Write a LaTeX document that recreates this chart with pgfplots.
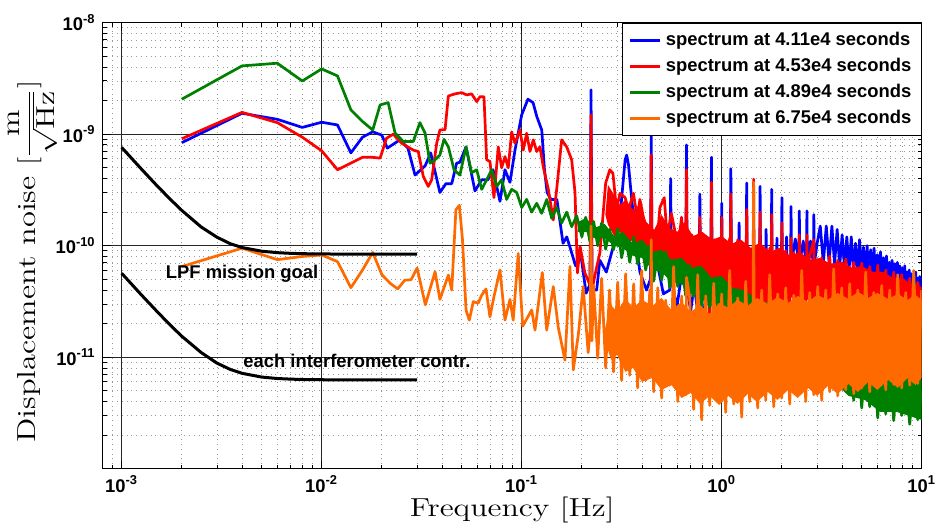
\documentclass[border=0pt]{standalone}
\usepackage{fontspec}
\usepackage{pgfplots}
\pgfplotsset{compat=1.18}
\newfontfamily\hv{Liberation Sans}
\newcommand\lblfont{\hv\bfseries\fontsize{9.2}{11}\selectfont}
\newcommand\axfont{\fontsize{13}{15}\selectfont}
\newcommand\ylab{Displacement noise $[\displaystyle\frac{\mathrm{m}}{\sqrt{\mathrm{Hz}}}]$}
\definecolor{mblue}{RGB}{0,0,255}
\definecolor{mred}{RGB}{255,0,0}
\definecolor{mgreen}{RGB}{0,128,0}
\definecolor{morange}{RGB}{255,106,0}
\pgfplotsset{sp/.style={line width=1.35pt, line join=round, mark=none}}
\pgfplotsset{legend image code/.code={\draw[#1, line width=1.5pt] (0pt,0pt) -- (15pt,0pt);}}
\begin{document}
\begin{tikzpicture}
\path[use as bounding box] (-51.35pt,-29.65pt) rectangle (416.15pt,234.35pt);
\begin{axis}[
  at={(0pt,0pt)}, anchor=south west,
  scale only axis, width=409.5pt, height=223pt,
  xmode=log, ymode=log,
  xmin=8.04e-4, xmax=10, ymin=1e-12, ymax=1e-8,
  xtick={1e-3,1e-2,1e-1,1,10},
  xticklabels={10\textsuperscript{-3},10\textsuperscript{-2},10\textsuperscript{-1},10\textsuperscript{0},10\textsuperscript{1}},
  ytick={1e-11,1e-10,1e-9,1e-8},
  yticklabels={10\textsuperscript{-11},10\textsuperscript{-10},10\textsuperscript{-9},10\textsuperscript{-8}},
  minor xtick={9e-4,2e-3,3e-3,4e-3,5e-3,6e-3,7e-3,8e-3,9e-3,2e-2,3e-2,4e-2,5e-2,6e-2,7e-2,8e-2,9e-2,0.2,0.3,0.4,0.5,0.6,0.7,0.8,0.9,2,3,4,5,6,7,8,9},
  minor ytick={2e-12,3e-12,4e-12,5e-12,6e-12,7e-12,8e-12,9e-12,2e-11,3e-11,4e-11,5e-11,6e-11,7e-11,8e-11,9e-11,2e-10,3e-10,4e-10,5e-10,6e-10,7e-10,8e-10,9e-10,2e-9,3e-9,4e-9,5e-9,6e-9,7e-9,8e-9,9e-9},
  grid=both,
  major grid style={black!85, line width=0.45pt},
  minor grid style={gray!80, dotted, line width=0.45pt},
  tick align=inside,
  major tick length=4pt, minor tick length=2pt,
  tick style={black, line width=0.5pt},
  axis line style={line width=0.7pt},
  tick label style={font=\lblfont},
  xlabel={Frequency [Hz]},
  xlabel style={at={(axis description cs:0.5,-0.1066)}, anchor=base, font=\axfont, xscale=1.23},
  ylabel={\ylab},
  ylabel style={at={(axis description cs:-0.0822,0.4646)}, anchor=base, font=\axfont, xscale=1.25},
  legend style={at={(axis description cs:1,1)}, anchor=north east, font=\lblfont, draw=black, fill=white, nodes={inner ysep=2.45pt}},
  legend cell align=left,
]
% ---------- blue ----------
\addplot[sp, mblue] coordinates {
(0.002,8.4e-10) (0.004,1.54e-9) (0.006,1.36e-9) (0.008,1.15e-9) (0.010,1.28e-9) (0.012,1.21e-9) (0.014,6.8e-10) (0.016,9.4e-10) (0.018,1.05e-9) (0.020,9.8e-10)
(0.0213,7.5e-10) (0.0246,8.9e-10) (0.0270,7.5e-10) (0.0293,4.3e-10) (0.0329,5.2e-10) (0.0351,6.8e-10) (0.0390,3.0e-10) (0.0418,3.6e-10) (0.0447,3.6e-10) (0.0473,5.5e-10)
(0.0491,5.6e-10) (0.0527,7.7e-10) (0.0584,3.1e-10) (0.0631,3.9e-10) (0.0678,3.9e-10) (0.0719,4.8e-10) (0.0779,2.5e-10) (0.0825,4.8e-10) (0.0874,3.7e-10) (0.0926,7.2e-10)
(0.100,1.49e-9) (0.1075,2.06e-9) (0.114,1.92e-9) (0.119,1.44e-9) (0.126,1.09e-9) (0.130,4.8e-10) (0.134,3.0e-10) (0.140,2.6e-10) (0.150,2.6e-10) (0.161,1.05e-10)
(0.168,1.2e-10) (0.175,9.5e-11) (0.186,6.6e-11) (0.197,8.6e-11) (0.210,3.75e-11) (0.2195,4.5e-11) (0.2222,2.5e-9) (0.225,4e-11) (0.237,4.0e-11) (0.246,7.4e-11)
(0.265,5.8e-11) (0.287,9.8e-11) (0.310,1.8e-10) (0.329,5.9e-10) (0.335,6.5e-10) (0.342,5.3e-10) (0.350,3.4e-10) (0.369,1.3e-10) (0.390,5.8e-11) (0.421,4.0e-11)
(0.440,5e-11) (0.4444,1.09e-9) (0.449,5e-11) (0.473,7.4e-11) (0.511,3.7e-11) (0.550,4e-11) (0.5556,4.0e-10) (0.561,5e-11) (0.597,2.8e-11) (0.630,5.5e-11)
(0.660,4e-11) (0.6667,8.0e-10) (0.673,4e-11) (0.700,2.6e-11) (0.730,4.5e-11) (0.760,2.4e-11) (0.770,3.5e-11) (0.7778,2.9e-10) (0.786,3.5e-11) (0.820,2.2e-11)
(0.850,4.0e-11) (0.880,3.2e-11) (0.8889,6.2e-10) (0.898,3.2e-11) (0.930,2.0e-11) (0.960,4.0e-11) (0.992,4e-11) (1.0,2.4e-10) (1.008,7.8e-11)
(1.104,7.8e-11) (1.111,4.9e-10) (1.118,7.8e-11) (1.215,7.8e-11) (1.222,1.6e-10) (1.229,7.8e-11) (1.326,7.8e-11) (1.333,3.65e-10) (1.341,7.8e-11)
(1.437,7.8e-11) (1.444,1.5e-10) (1.452,7.8e-11) (1.548,7.5e-11) (1.556,3.4e-10) (1.564,7.5e-11) (1.659,7.5e-11) (1.667,1.4e-10) (1.675,7.5e-11)
(1.769,7.5e-11) (1.778,3.2e-10) (1.787,7.5e-11) (1.880,7.5e-11) (1.889,1.17e-10) (1.898,7.5e-11) (1.990,7.2e-11) (2.0,2.7e-10) (2.010,7.2e-11)
(2.100,7e-11) (2.111,1.2e-10) (2.122,7e-11) (2.211,7e-11) (2.222,2.25e-10) (2.233,7e-11) (2.333,1.15e-10) (2.432,7e-11) (2.444,2.05e-10) (2.456,7e-11)
(2.556,1.1e-10) (2.654,6.8e-11) (2.667,2.05e-10) (2.680,6.8e-11) (2.778,1.1e-10) (2.875,6.8e-11) (2.889,1.9e-10) (2.903,6.8e-11) (3.0,1.05e-10)
(3.111,1.5e-10) (3.222,7.0e-11) (3.333,1.5e-10) (3.444,7.0e-11) (3.556,1.5e-10) (3.667,6.8e-11) (3.778,1.4e-10) (3.889,6.5e-11) (4.0,1.25e-10) (4.111,6.3e-11)
(4.222,1.2e-10) (4.333,6.1e-11) (4.444,1.2e-10) (4.556,5.9e-11) (4.667,1.05e-10) (4.778,5.7e-11) (4.889,1.13e-10) (5.0,5.5e-11) (5.111,9.7e-11) (5.222,5.3e-11)
(5.333,1.0e-10) (5.444,5.1e-11) (5.556,9.2e-11) (5.667,5.0e-11) (5.778,9.5e-11) (5.889,4.8e-11) (6.0,8.3e-11) (6.111,4.7e-11) (6.222,8.8e-11) (6.333,4.5e-11)
(6.444,7.8e-11) (6.556,4.4e-11) (6.667,8.1e-11) (6.778,4.3e-11) (6.889,7.1e-11) (7.0,4.2e-11) (7.111,7.4e-11) (7.222,4.1e-11) (7.333,6.9e-11) (7.444,4.0e-11)
(7.556,7.1e-11) (7.667,3.9e-11) (7.778,6.6e-11) (7.889,3.8e-11) (8.0,6.3e-11) (8.111,3.7e-11) (8.222,6.6e-11) (8.333,3.6e-11) (8.444,5.8e-11) (8.556,3.5e-11)
(8.667,6.05e-11) (8.778,3.5e-11) (8.889,5.6e-11) (9.0,3.4e-11) (9.111,5.3e-11) (9.222,3.3e-11) (9.333,5.8e-11) (9.444,3.2e-11) (9.556,5.1e-11) (9.667,3.2e-11)
(9.778,5.3e-11) (9.889,3.1e-11) (10.0,5.2e-11)
};
\addlegendentry{spectrum at 4.11e4 seconds}
% ---------- red ----------
\addplot[forget plot, draw=none, fill=mred] coordinates {
(0.262,1.89e-10) (0.27,3.51e-10) (0.29,2.85e-10) (0.31,2.32e-10) (0.33,2.58e-10) (0.36,2.10e-10) (0.39,2.32e-10) (0.42,1.63e-10) (0.46,1.39e-10) (0.50,1.89e-10)
(0.55,1.44e-10) (0.60,1.33e-10) (0.65,1.63e-10) (0.72,1.22e-10) (0.80,1.33e-10) (0.90,1.13e-10) (1.0,1.22e-10) (1.12,1.04e-10) (1.25,1.13e-10) (1.4,9.56e-11)
(1.55,1.06e-10) (1.75,8.80e-11) (1.95,9.56e-11) (2.2,8.10e-11) (2.45,8.80e-11) (2.75,7.46e-11) (3.1,7.77e-11) (3.5,6.87e-11) (4.0,7.15e-11) (4.5,6.32e-11)
(5.0,6.59e-11) (5.7,5.82e-11) (6.4,5.82e-11) (7.2,5.14e-11) (8.0,5.14e-11) (9.0,4.45e-11) (10,4.27e-11)
(10,2.94e-11) (9.0,3.27e-11) (8.0,2.88e-11) (7.2,3.27e-11) (6.4,2.88e-11) (5.7,3.40e-11) (5.0,2.94e-11) (4.5,3.40e-11) (4.0,2.94e-11) (3.5,3.40e-11)
(3.1,2.88e-11) (2.75,3.40e-11) (2.45,2.88e-11) (2.2,3.55e-11) (1.95,2.94e-11) (1.75,3.55e-11) (1.55,3.01e-11) (1.4,3.69e-11) (1.25,3.07e-11) (1.12,3.85e-11)
(1.0,3.27e-11) (0.90,4.18e-11) (0.80,3.62e-11) (0.72,4.73e-11) (0.65,4.45e-11) (0.60,6.07e-11) (0.55,5.82e-11) (0.50,7.77e-11) (0.46,7.15e-11) (0.42,9.56e-11)
(0.39,9.17e-11) (0.36,1.13e-10) (0.33,1.02e-10) (0.31,1.33e-10) (0.29,1.22e-10) (0.27,1.54e-10) (0.262,1.89e-10)};
\addplot[sp, mred] coordinates {
(0.002,9.1e-10) (0.004,1.57e-9) (0.006,1.27e-9) (0.008,9.4e-10) (0.010,7.1e-10) (0.012,4.8e-10) (0.014,5.5e-10) (0.016,6.2e-10) (0.018,6.2e-10) (0.0196,6.1e-10)
(0.0211,9.2e-10) (0.0228,1.0e-9) (0.0251,8.3e-10) (0.0287,7.2e-10) (0.0304,7.0e-10) (0.0322,4.2e-10) (0.0341,3.4e-10) (0.0355,3.9e-10) (0.0376,8.3e-10) (0.0390,1.09e-9)
(0.0414,1.1e-9) (0.0430,2.2e-9) (0.0464,2.3e-9) (0.0501,2.36e-9) (0.0531,2.25e-9) (0.0562,2.3e-9) (0.0596,1.96e-9) (0.0619,2.17e-9) (0.0648,2.17e-9) (0.0668,5.9e-10)
(0.0694,5.7e-10) (0.0727,2.7e-10) (0.0764,7.7e-10) (0.0794,5.0e-10) (0.0825,6.3e-10) (0.0857,5.0e-10) (0.0891,1.05e-9) (0.0926,8.3e-10) (0.098,1.09e-9) (0.1018,7.2e-10)
(0.1059,1.02e-9) (0.110,7.0e-10) (0.1143,8.9e-10) (0.1189,7.0e-10) (0.1234,7.7e-10) (0.1282,5.1e-10) (0.1359,3.2e-10) (0.1439,1.7e-10) (0.1496,3.2e-10) (0.1585,8.9e-10)
(0.1679,7.7e-10) (0.1778,5.9e-10) (0.1848,3.0e-10) (0.190,5.7e-11) (0.196,9.8e-11) (0.207,5.7e-11) (0.220,4.4e-11) (0.2222,1.49e-9) (0.2245,4.0e-11) (0.237,6.4e-11)
(0.246,8.6e-11) (0.263,3.65e-10) (0.276,4.8e-10) (0.286,4.45e-10) (0.298,2.1e-10) (0.310,2.95e-10) (0.329,2.7e-10) (0.342,2.1e-10) (0.362,2.95e-10) (0.378,1.8e-10)
(0.390,2.6e-10) (0.406,1.8e-10) (0.422,1.3e-10) (0.440,7.4e-11) (0.4444,6.5e-10) (0.449,7e-11) (0.473,9.8e-11) (0.491,2.2e-10) (0.516,2.7e-10) (0.534,1.2e-10)
(0.560,1.95e-10) (0.606,9.8e-11) (0.630,1.8e-10) (0.660,6e-11) (0.6667,4.8e-10) (0.673,4.9e-11) (0.690,3.25e-11) (0.710,1.25e-10) (0.730,4e-11) (0.750,1.13e-10)
(0.772,3.25e-11) (0.7778,1.8e-10) (0.785,4e-11) (0.810,1.17e-10) (0.830,2.65e-11) (0.850,1.08e-10) (0.870,2.15e-11) (0.882,4.9e-11) (0.8889,3.7e-10) (0.896,4.4e-11)
(0.920,1.13e-10) (0.940,1.75e-11) (0.960,1.02e-10) (0.985,3.25e-11) (0.993,4.9e-11) (1.0,1.8e-10) (1.007,4.4e-11) (1.047,2.4e-11) (1.096,1.17e-10) (1.105,9.2e-11)
(1.111,2.9e-10) (1.118,8.3e-11) (1.148,2.15e-11) (1.202,1.13e-10) (1.259,2.65e-11) (1.318,1.03e-10) (1.326,8.3e-11) (1.333,2.1e-10) (1.341,7.4e-11) (1.380,2.25e-11)
(1.437,7.4e-11) (1.444,3.95e-10) (1.452,6.7e-11) (1.514,2.55e-11) (1.548,7.8e-11) (1.556,2.0e-10) (1.564,7.1e-11) (1.585,1.0e-10) (1.660,2.15e-11) (1.738,9.5e-11)
(1.769,7.1e-11) (1.778,1.9e-10) (1.787,6.7e-11) (1.820,2.25e-11) (1.905,9.2e-11) (1.990,6.7e-11) (2.0,1.6e-10) (2.010,6.3e-11) (2.089,9.0e-11) (2.188,2.25e-11)
(2.211,6.3e-11) (2.222,1.17e-10) (2.233,6.05e-11) (2.291,8.6e-11) (2.399,2.05e-11) (2.432,6.05e-11) (2.444,1.25e-10) (2.456,5.8e-11) (2.512,8.3e-11) (2.630,2.3e-11)
(2.654,6.05e-11) (2.667,1.25e-10) (2.680,5.8e-11) (2.754,8.1e-11) (2.889,1.13e-10) (2.900,5.5e-11) (3.020,2.4e-11) (3.162,7.8e-11) (3.311,2.05e-11) (3.467,8.1e-11)
(3.631,2.25e-11) (3.802,7.4e-11) (3.981,1.9e-11) (4.169,7.6e-11) (4.365,2.25e-11) (4.571,7.1e-11) (4.786,2.05e-11) (5.012,7.0e-11) (5.248,2.35e-11) (5.495,6.5e-11)
(5.754,2.15e-11) (6.026,6.7e-11) (6.310,2.25e-11) (6.607,6.05e-11) (6.918,2.05e-11) (7.244,5.8e-11) (7.586,2.35e-11) (7.943,5.5e-11) (8.318,2.15e-11) (8.710,5.1e-11)
(9.120,2.25e-11) (9.550,4.7e-11) (10.0,2.4e-11)
};
\addlegendentry{spectrum at 4.53e4 seconds}
% ---------- green ----------
\addplot[forget plot, draw=none, fill=mgreen] coordinates {
(0.191,1.63e-10) (0.21,1.78e-10) (0.23,1.44e-10) (0.26,1.57e-10) (0.29,1.22e-10) (0.32,1.33e-10) (0.36,1.04e-10) (0.40,1.13e-10) (0.45,8.80e-11) (0.50,9.17e-11)
(0.56,7.46e-11) (0.63,7.77e-11) (0.70,6.32e-11) (0.79,6.59e-11) (0.89,5.14e-11) (1.0,5.36e-11) (1.13,4.18e-11) (1.3,4.01e-11) (1.5,3.27e-11) (1.8,3.01e-11)
(2.1,2.55e-11) (2.5,2.25e-11) (3.0,1.83e-11) (3.6,1.62e-11) (4.3,1.29e-11) (5.2,1.16e-11) (6.2,9.46e-12) (7.5,8.36e-12) (10,6.26e-12)
(10,2.74e-12) (7.5,3.23e-12) (6.2,3.23e-12) (5.2,4.14e-12) (4.3,4.50e-12) (3.6,6.26e-12) (3.0,7.08e-12) (2.5,9.46e-12) (2.1,1.07e-11) (1.8,1.32e-11)
(1.5,1.49e-11) (1.3,1.91e-11) (1.13,2.07e-11) (1.0,2.66e-11) (0.89,2.88e-11) (0.79,3.55e-11) (0.70,3.69e-11) (0.63,4.54e-11) (0.56,4.73e-11) (0.50,5.82e-11)
(0.45,6.07e-11) (0.40,7.77e-11) (0.36,8.10e-11) (0.32,9.56e-11) (0.29,9.96e-11) (0.26,1.17e-10) (0.23,1.17e-10) (0.21,1.33e-10) (0.191,1.33e-10) (0.191,1.63e-10)};
\addplot[sp, mgreen] coordinates {
(0.002,2.06e-9) (0.004,4.1e-9) (0.006,4.33e-9) (0.008,3.0e-9) (0.010,3.85e-9) (0.012,3.33e-9) (0.014,1.65e-9) (0.016,1.3e-9) (0.018,1.09e-9) (0.0196,1.83e-9)
(0.0215,1.92e-9) (0.0233,1.02e-9) (0.0256,8.6e-10) (0.0287,8.6e-10) (0.0310,1.27e-9) (0.0329,1.02e-9) (0.0348,5.5e-10) (0.0369,5.9e-10) (0.0390,6.5e-10) (0.0409,9.0e-10)
(0.0430,7.7e-10) (0.0459,4.8e-10) (0.0491,4.3e-10) (0.0527,7.7e-10) (0.0562,4.5e-10) (0.0596,4.8e-10) (0.0631,3.2e-10) (0.0668,3.9e-10) (0.0708,4.8e-10) (0.0750,3.4e-10)
(0.0794,3.9e-10) (0.0841,2.6e-10) (0.0891,3.2e-10) (0.0944,3.0e-10) (0.100,2.2e-10) (0.1059,2.6e-10) (0.1122,2.0e-10) (0.1189,2.4e-10) (0.1259,1.95e-10) (0.1334,2.6e-10)
(0.1413,1.76e-10) (0.1496,2.2e-10) (0.1585,1.6e-10) (0.1679,2.0e-10) (0.1778,1.48e-10) (0.1884,1.85e-10) (0.200,1.2e-10) (0.209,1.8e-10) (0.219,1.1e-10) (0.229,1.65e-10)
(0.240,1.0e-10) (0.251,1.6e-10) (0.263,9.3e-11) (0.275,1.4e-10) (0.288,9.2e-11) (0.302,1.42e-10) (0.316,7.8e-11) (0.331,1.2e-10) (0.347,7.1e-11) (0.363,1.2e-10)
(0.380,6.85e-11) (0.398,1.05e-10) (0.417,6.05e-11) (0.437,1.0e-10) (0.457,4.8e-11) (0.479,8.6e-11) (0.501,4.9e-11) (0.525,8.8e-11) (0.550,4.2e-11) (0.575,7.4e-11)
(0.603,4.3e-11) (0.631,7.2e-11) (0.661,3.55e-11) (0.692,6.7e-11) (0.724,3.5e-11) (0.759,5.8e-11) (0.794,2.85e-11) (0.832,5.7e-11) (0.871,2.8e-11) (0.912,4.9e-11)
(0.955,2.5e-11) (1.000,4.8e-11) (1.047,2.15e-11) (1.096,4.2e-11) (1.148,2.0e-11) (1.202,4.0e-11) (1.259,1.7e-11) (1.318,3.55e-11) (1.380,1.5e-11) (1.445,3.4e-11)
(1.514,1.35e-11) (1.585,3.25e-11) (1.660,1.4e-11) (1.738,2.7e-11) (1.820,1.23e-11) (1.905,2.8e-11) (1.995,1.13e-11) (2.089,2.4e-11) (2.188,1.15e-11) (2.291,2.3e-11)
(2.399,9.4e-12) (2.512,2.05e-11) (2.630,9.0e-12) (2.754,1.9e-11) (2.884,7.7e-12) (3.020,1.85e-11) (3.162,7.2e-12) (3.311,1.6e-11) (3.467,5.9e-12) (3.631,1.55e-11)
(3.802,5.1e-12) (3.981,1.3e-11) (4.169,4.9e-12) (4.365,1.23e-11) (4.571,4.1e-12) (4.786,1.2e-11) (5.012,3.5e-12) (5.248,1.05e-11) (5.495,3.6e-12) (5.754,9.4e-12)
(6.026,2.85e-12) (6.310,9.8e-12) (6.607,3.1e-12) (6.918,8.0e-12) (7.244,2.7e-12) (7.586,8.3e-12) (7.943,3.0e-12) (8.318,6.9e-12) (8.710,2.5e-12) (9.120,7.4e-12)
(9.550,2.75e-12) (10.0,5.1e-12)
};
\addlegendentry{spectrum at 4.89e4 seconds}
% ---------- orange ----------
\addplot[forget plot, draw=none, fill=morange] coordinates {
(0.26,1.76e-11) (0.28,2.94e-11) (0.30,2.55e-11) (0.33,3.40e-11) (0.36,2.77e-11) (0.40,3.27e-11) (0.45,2.88e-11) (0.50,3.40e-11) (0.56,2.66e-11) (0.63,3.13e-11)
(0.70,2.55e-11) (0.78,2.94e-11) (0.87,2.45e-11) (0.97,3.07e-11) (1.08,2.77e-11) (1.2,3.27e-11) (1.35,2.88e-11) (1.5,3.40e-11) (1.7,3.01e-11) (1.9,3.47e-11)
(2.15,3.07e-11) (2.4,3.55e-11) (2.7,3.13e-11) (3.0,3.62e-11) (3.4,3.27e-11) (3.8,3.77e-11) (4.3,3.33e-11) (4.8,3.85e-11) (5.4,3.40e-11) (6.0,3.77e-11)
(6.8,3.33e-11) (7.6,3.69e-11) (8.5,3.27e-11) (9.3,3.62e-11) (10,3.27e-11)
(10,6.52e-12) (9.3,5.64e-12) (8.5,6.52e-12) (7.6,5.31e-12) (6.8,6.26e-12) (6.0,5.09e-12) (5.4,6.00e-12) (4.8,4.88e-12) (4.3,5.76e-12) (3.8,4.69e-12)
(3.4,5.53e-12) (3.0,4.50e-12) (2.7,5.31e-12) (2.4,4.31e-12) (2.15,5.09e-12) (1.9,4.14e-12) (1.7,4.88e-12) (1.5,3.97e-12) (1.35,4.69e-12) (1.2,3.81e-12)
(1.08,4.50e-12) (0.97,3.73e-12) (0.87,4.50e-12) (0.78,3.81e-12) (0.70,4.78e-12) (0.63,4.31e-12) (0.56,5.64e-12) (0.50,5.09e-12) (0.45,6.52e-12) (0.40,6.00e-12)
(0.36,8.02e-12) (0.33,7.38e-12) (0.30,1.05e-11) (0.28,9.46e-12) (0.26,1.43e-11) (0.26,1.76e-11)};
\addplot[sp, morange] coordinates {
(0.002,6.5e-11) (0.004,9.5e-11) (0.006,7.5e-11) (0.008,8.0e-11) (0.010,8.25e-11) (0.012,7.2e-11) (0.014,4.2e-11) (0.016,6.05e-11) (0.018,8.7e-11) (0.020,5.5e-11)
(0.022,4.6e-11) (0.024,4.1e-11) (0.026,4.9e-11) (0.028,4.95e-11) (0.030,6.3e-11) (0.033,2.95e-11) (0.0369,5.85e-11) (0.039,3.3e-11) (0.043,5.45e-11) (0.0447,4.0e-11)
(0.0469,2.1e-10) (0.0488,2.3e-10) (0.0506,1.13e-10) (0.0527,2.65e-11) (0.0547,2.15e-11) (0.0573,3.15e-11) (0.0606,3.05e-11) (0.0631,3.6e-11) (0.0663,4.1e-11) (0.0694,2.3e-11)
(0.0727,3.5e-11) (0.0779,6.05e-11) (0.0825,2.15e-11) (0.0874,3.3e-11) (0.0907,2.15e-11) (0.0961,8.5e-11) (0.1012,1.9e-11) (0.1059,2.2e-11) (0.1122,2.65e-11) (0.1166,1.75e-11)
(0.1268,5.75e-11) (0.1334,1.75e-11) (0.1439,4.3e-11) (0.1524,1.85e-11) (0.1646,9.4e-12) (0.1744,6.5e-11) (0.1811,7.7e-12) (0.192,1.6e-11) (0.203,4.3e-11) (0.215,1.1e-11)
(0.220,1.75e-11) (0.2222,1.5e-10) (0.2245,1.4e-11) (0.229,4.4e-11) (0.240,9.8e-12) (0.251,5.1e-11) (0.263,8.0e-12) (0.275,4.0e-11) (0.288,7.4e-12) (0.302,4.7e-11)
(0.316,6.2e-12) (0.331,5.6e-11) (0.347,6.9e-12) (0.363,4.55e-11) (0.380,5.3e-12) (0.398,6.0e-11) (0.417,6.2e-12) (0.437,4.0e-11) (0.441,1.75e-11) (0.4444,1.13e-10)
(0.448,1.4e-11) (0.457,4.9e-12) (0.479,4.2e-11) (0.501,4.3e-12) (0.525,3.25e-11) (0.550,5.6e-12) (0.575,6.5e-11) (0.603,4.0e-12) (0.631,3.55e-11) (0.661,4.6e-12)
(0.667,5.2e-11) (0.692,3.4e-11) (0.724,3.4e-12) (0.759,5.5e-11) (0.794,2.75e-12) (0.832,3.55e-11) (0.871,3.7e-12) (0.912,4.6e-11) (0.955,4.1e-12) (1.000,3.7e-11)
(1.047,3.2e-12) (1.096,6.0e-11) (1.148,3.8e-12) (1.202,3.4e-11) (1.259,2.9e-12) (1.318,4.8e-11) (1.380,4.0e-12) (1.435,1.5e-11) (1.444,3.7e-10) (1.453,1.4e-11)
(1.514,3.5e-12) (1.585,4.0e-11) (1.660,4.1e-12) (1.738,5.5e-11) (1.820,3.6e-12) (1.905,3.7e-11) (1.995,4.3e-12) (2.089,4.2e-11) (2.188,3.8e-12) (2.291,3.6e-11)
(2.399,4.5e-12) (2.512,6.0e-11) (2.630,4.0e-12) (2.754,3.8e-11) (2.884,4.6e-12) (3.020,4.3e-11) (3.162,4.1e-12) (3.311,4.0e-11) (3.467,4.9e-12) (3.631,6.2e-11)
(3.802,4.5e-12) (3.981,4.2e-11) (4.169,5.1e-12) (4.365,4.55e-11) (4.571,4.7e-12) (4.786,4.0e-11) (5.012,5.3e-12) (5.248,5.8e-11) (5.495,4.9e-12) (5.754,3.8e-11)
(6.026,5.5e-12) (6.310,4.4e-11) (6.607,5.1e-12) (6.918,4.0e-11) (7.244,5.7e-12) (7.586,5.5e-11) (7.943,5.3e-12) (8.318,3.8e-11) (8.710,5.6e-12) (9.120,6.0e-11)
(9.550,5.8e-12) (10.0,4.0e-11)
};
\addlegendentry{spectrum at 6.75e4 seconds}
% ---------- black requirement curves ----------
\addplot[forget plot, black, line width=1.5pt, line join=round] coordinates {
(0.001,7.61e-10) (0.00125,4.91e-10) (0.0015,3.46e-10) (0.00175,2.61e-10) (0.002,2.07e-10) (0.0025,1.47e-10) (0.003,1.19e-10) (0.0035,1.04e-10) (0.004,9.63e-11)
(0.005,8.93e-11) (0.006,8.66e-11) (0.007,8.54e-11) (0.008,8.48e-11) (0.01,8.43e-11) (0.015,8.41e-11) (0.02,8.4e-11) (0.03,8.4e-11)};
\addplot[forget plot, black, line width=1.5pt, line join=round] coordinates {
(0.001,5.66e-11) (0.00125,3.65e-11) (0.0015,2.58e-11) (0.00175,1.94e-11) (0.002,1.54e-11) (0.0025,1.10e-11) (0.003,8.84e-12) (0.0035,7.76e-12) (0.004,7.17e-12)
(0.005,6.64e-12) (0.006,6.44e-12) (0.007,6.36e-12) (0.008,6.31e-12) (0.01,6.28e-12) (0.015,6.25e-12) (0.02,6.25e-12) (0.03,6.25e-12)};
\node[font=\lblfont] at (axis cs:0.004,5.6e-11) {LPF mission goal};
\node[font=\lblfont] at (axis cs:0.015,9.2e-12) {each interferometer contr.};
\end{axis}
\end{tikzpicture}
\end{document}
